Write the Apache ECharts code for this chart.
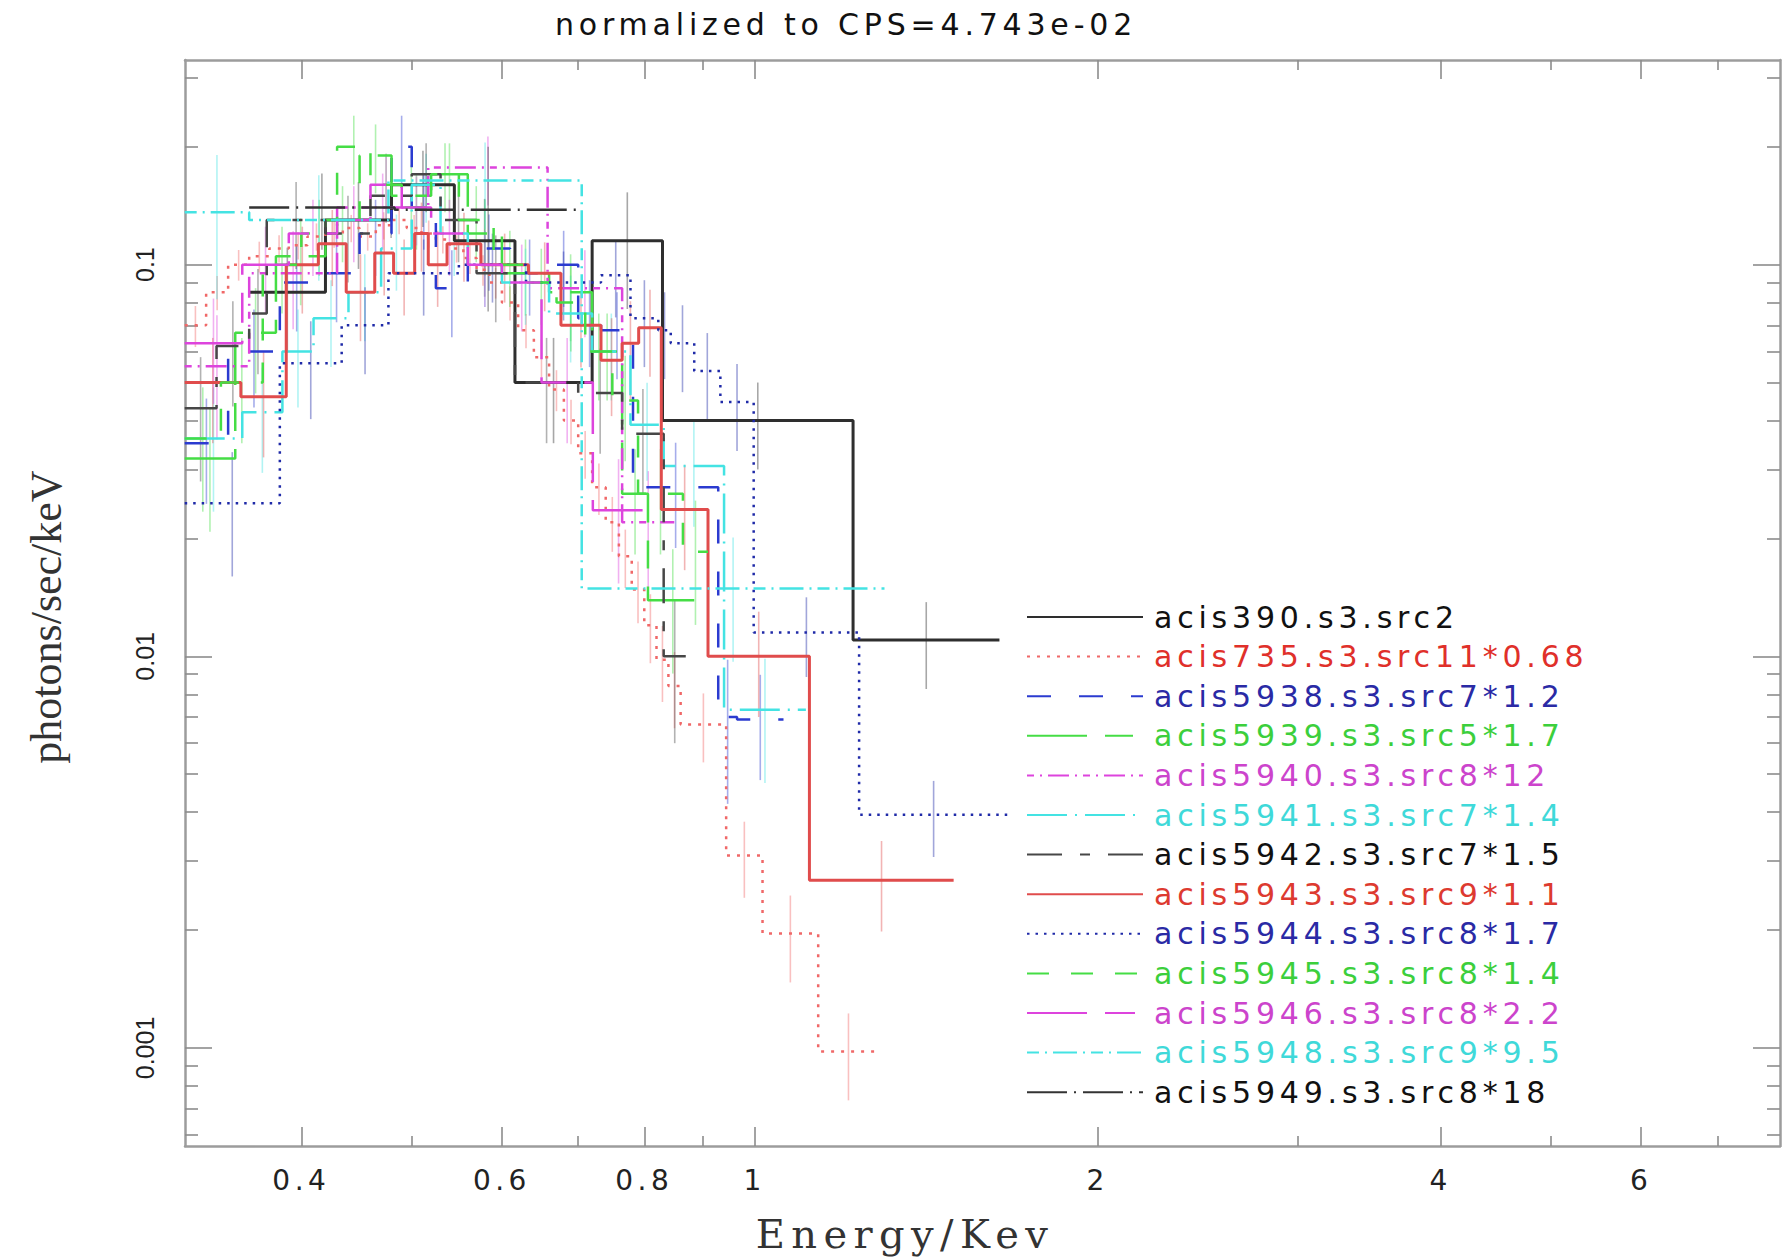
<!DOCTYPE html>
<html>
<head>
<meta charset="utf-8">
<script src="https://cdn.jsdelivr.net/npm/echarts@6/dist/echarts.min.js"></script>
<style>
html,body{margin:0;padding:0;background:#ffffff;}
#chart{width:1785px;height:1257px;}
#chart text[style*="DejaVu"]{letter-spacing:0.16em;}
</style>
</head>
<body>
<div id="chart"></div>
<script>
// ---------------- DATA (energy bin edges in keV, values in photons/sec/keV, relative errors) -------------
const titleText = 'normalized to CPS=4.743e-02';
const xName = 'Energy/Kev';
const yName = 'photons/sec/keV';

const xMajorTicks = [0.4, 0.6, 0.8, 1, 2, 4, 6];
const xMajorLabels = ['0.4', '0.6', '0.8', '1', '2', '4', '6'];
const xMinorTicks = [0.5, 0.7, 0.9, 3, 5, 7];
const yMajorTicks = [0.1, 0.01, 0.001];
const yMajorLabels = ['0.1', '0.01', '0.001'];
const yMinorTicks = [0.3, 0.2, 0.09, 0.08, 0.07, 0.06, 0.05, 0.04, 0.03, 0.02,
  0.009, 0.008, 0.007, 0.006, 0.005, 0.004, 0.003, 0.002, 0.0009, 0.0008, 0.0007, 0.0006];
const xRange = [0.3162, 7.943];
const yRange = [0.000562, 0.333];

const names = ['acis390.s3.src2', 'acis735.s3.src11*0.68', 'acis5938.s3.src7*1.2', 'acis5939.s3.src5*1.7',
  'acis5940.s3.src8*12', 'acis5941.s3.src7*1.4', 'acis5942.s3.src7*1.5', 'acis5943.s3.src9*1.1',
  'acis5944.s3.src8*1.7', 'acis5945.s3.src8*1.4', 'acis5946.s3.src8*2.2', 'acis5948.s3.src9*9.5',
  'acis5949.s3.src8*18'];

const e390 = [0.36, 0.42, 0.48, 0.545, 0.616, 0.72, 0.83, 1.22, 1.64];
const v390 = [0.085, 0.13, 0.16, 0.115, 0.05, 0.115, 0.04, 0.011];
const err390 = [0.3, 0.25, 0.22, 0.28, 0.3, 0.33, 0.25, 0.25];

const e735 = [0.316, 0.33, 0.345, 0.36, 0.375, 0.39, 0.405, 0.42, 0.435, 0.45, 0.465, 0.48, 0.495, 0.51, 0.525,
  0.54, 0.555, 0.57, 0.585, 0.60, 0.62, 0.64, 0.66, 0.68, 0.70, 0.72, 0.74, 0.76, 0.78, 0.80, 0.82, 0.84, 0.861,
  0.944, 1.016, 1.137, 1.285];
const v735 = [0.07, 0.085, 0.10, 0.105, 0.11, 0.112, 0.118, 0.12, 0.124, 0.118, 0.126, 0.13, 0.124, 0.12, 0.116,
  0.11, 0.104, 0.097, 0.09, 0.08, 0.068, 0.058, 0.048, 0.04, 0.033, 0.027, 0.022, 0.018, 0.0148, 0.012, 0.0098,
  0.0084, 0.0067, 0.0031, 0.00196, 0.00098];
const err735 = [0.12, 0.1, 0.09, 0.09, 0.08, 0.08, 0.08, 0.08, 0.08, 0.08, 0.08, 0.08, 0.08, 0.08, 0.08, 0.08,
  0.09, 0.09, 0.09, 0.1, 0.1, 0.11, 0.12, 0.13, 0.14, 0.15, 0.16, 0.17, 0.18, 0.2, 0.22, 0.22, 0.2, 0.22, 0.25, 0.25];

const e5938 = [0.316, 0.345, 0.383, 0.41, 0.45, 0.48, 0.50, 0.525, 0.56, 0.61, 0.66, 0.70, 0.733, 0.782, 0.929, 0.965, 1.06];
const v5938 = [0.035, 0.06, 0.09, 0.095, 0.12, 0.2, 0.14, 0.087, 0.11, 0.095, 0.1, 0.073, 0.068, 0.027, 0.007, 0.0069];
const err5938 = [0.3, 0.28, 0.25, 0.25, 0.22, 0.2, 0.22, 0.25, 0.22, 0.22, 0.22, 0.25, 0.25, 0.3, 0.4, 0.3];

const e5939 = [0.316, 0.35, 0.38, 0.42, 0.45, 0.48, 0.52, 0.56, 0.60, 0.66, 0.72, 0.765, 0.806, 0.891];
const v5939 = [0.032, 0.067, 0.105, 0.13, 0.19, 0.15, 0.17, 0.12, 0.095, 0.085, 0.06, 0.026, 0.0139];
const err5939 = [0.35, 0.3, 0.25, 0.22, 0.2, 0.2, 0.2, 0.22, 0.22, 0.25, 0.25, 0.3, 0.35];

const e5940 = [0.316, 0.36, 0.43, 0.517, 0.658, 0.765, 0.85];
const v5940 = [0.055, 0.095, 0.14, 0.177, 0.087, 0.022];
const err5940 = [0.35, 0.28, 0.22, 0.2, 0.25, 0.35];

const e5941 = [0.316, 0.355, 0.385, 0.41, 0.44, 0.47, 0.50, 0.53, 0.56, 0.60, 0.66, 0.72, 0.778, 0.832, 0.94, 1.109];
const v5941 = [0.036, 0.042, 0.06, 0.073, 0.085, 0.11, 0.16, 0.12, 0.10, 0.09, 0.075, 0.06, 0.039, 0.0306, 0.0073];
const err5941 = [0.35, 0.3, 0.28, 0.25, 0.25, 0.22, 0.2, 0.22, 0.22, 0.22, 0.25, 0.25, 0.28, 0.3, 0.35];

const e5942 = [0.316, 0.337, 0.36, 0.373, 0.42, 0.46, 0.50, 0.53, 0.57, 0.616, 0.70, 0.765, 0.832, 0.87];
const v5942 = [0.043, 0.062, 0.075, 0.13, 0.12, 0.15, 0.17, 0.13, 0.095, 0.05, 0.047, 0.037, 0.01];
const err5942 = [0.35, 0.3, 0.3, 0.25, 0.25, 0.22, 0.2, 0.22, 0.25, 0.3, 0.3, 0.3, 0.4];

const e5943 = [0.316, 0.354, 0.388, 0.414, 0.438, 0.464, 0.482, 0.503, 0.517, 0.537, 0.575, 0.633, 0.676, 0.733,
  0.765, 0.791, 0.828, 0.910, 1.117, 1.495];
const v5943 = [0.050, 0.046, 0.100, 0.113, 0.085, 0.107, 0.095, 0.120, 0.100, 0.113, 0.100, 0.095, 0.070, 0.057,
  0.063, 0.069, 0.0237, 0.010, 0.00268];
const err5943 = [0.3, 0.3, 0.25, 0.22, 0.25, 0.22, 0.22, 0.2, 0.22, 0.2, 0.2, 0.2, 0.22, 0.28, 0.28, 0.25, 0.3, 0.3, 0.26];

const e5944 = [0.316, 0.383, 0.434, 0.477, 0.55, 0.63, 0.733, 0.778, 0.823, 0.844, 0.885, 0.933, 0.998, 1.235, 1.669];
const v5944 = [0.0246, 0.056, 0.07, 0.095, 0.1, 0.09, 0.094, 0.073, 0.068, 0.063, 0.0535, 0.0446, 0.0115, 0.00394];
const err5944 = [0.35, 0.28, 0.25, 0.22, 0.2, 0.2, 0.22, 0.25, 0.25, 0.25, 0.25, 0.25, 0.23, 0.22];

const e5945 = [0.316, 0.34, 0.37, 0.40, 0.43, 0.46, 0.49, 0.52, 0.55, 0.59, 0.63, 0.67, 0.71, 0.75, 0.79, 0.865, 0.91];
const v5945 = [0.036, 0.05, 0.1, 0.12, 0.2, 0.16, 0.14, 0.17, 0.13, 0.1, 0.09, 0.08, 0.06, 0.045, 0.026, 0.0185];
const err5945 = [0.35, 0.3, 0.25, 0.22, 0.2, 0.2, 0.22, 0.2, 0.22, 0.22, 0.22, 0.25, 0.25, 0.3, 0.3, 0.35];

const e5946 = [0.316, 0.355, 0.39, 0.43, 0.46, 0.49, 0.52, 0.56, 0.60, 0.65, 0.721, 0.80];
const v5946 = [0.063, 0.1, 0.12, 0.13, 0.16, 0.14, 0.12, 0.1, 0.09, 0.05, 0.0236];
const err5946 = [0.3, 0.25, 0.22, 0.22, 0.2, 0.2, 0.22, 0.22, 0.25, 0.3, 0.35];

const e5948 = [0.316, 0.36, 0.477, 0.705, 1.30];
const v5948 = [0.136, 0.13, 0.164, 0.0149];
const err5948 = [0.4, 0.3, 0.25, 0.35];

const e5949 = [0.36, 0.483, 0.705];
const v5949 = [0.14, 0.138];
const err5949 = [0.22, 0.45];

// ---------------- STYLES -------------
const edgesList = [e390, e735, e5938, e5939, e5940, e5941, e5942, e5943, e5944, e5945, e5946, e5948, e5949];
const valuesList = [v390, v735, v5938, v5939, v5940, v5941, v5942, v5943, v5944, v5945, v5946, v5948, v5949];
const errList = [err390, err735, err5938, err5939, err5940, err5941, err5942, err5943, err5944, err5945, err5946, err5948, err5949];

const lineColors = ['#2e2e2e', '#f06868', '#2b3bd0', '#45dd45', '#dd44dd', '#44e3e3', '#474747', '#e04c4c',
  '#1f2aa8', '#45dd45', '#dd44dd', '#44e3e3', '#333333'];
const textColors = ['#111111', '#e0302a', '#2a2aa5', '#3ccf3c', '#cc44cc', '#3fd9d9', '#111111', '#dd3a30',
  '#2a2aa5', '#3ccf3c', '#cc44cc', '#3fd9d9', '#111111'];
const dashes = ['solid', [3, 7], [24, 28], [60, 18, 28, 18], [7, 6, 2, 6, 21, 6, 2, 6], [40, 8, 2, 8],
  [35, 18, 10, 18], 'solid', [2.5, 6], [22, 22], [60, 18, 30, 18], [12, 6, 2, 6, 24, 6, 2, 6], [40, 7, 2, 7]];
const widths = [3, 2.5, 2.5, 2.5, 2.5, 2.5, 2.5, 3, 2.5, 2.5, 2.5, 2.5, 2.5];

const L = Math.log10;

function stepPoints(e, v) {
  const pts = [];
  for (let i = 0; i < v.length; i++) {
    pts.push([L(e[i]), L(v[i])]);
    pts.push([L(e[i + 1]), L(v[i])]);
  }
  return pts;
}
function errData(e, v, err) {
  return v.map((val, i) => {
    const xc = (L(e[i]) + L(e[i + 1])) / 2;
    return [xc, L(val * (1 - err[i])), L(val * (1 + err[i]))];
  });
}

const series = [];
names.forEach((nm, k) => {
  series.push({
    type: 'line', name: nm, data: stepPoints(edgesList[k], valuesList[k]),
    symbol: 'none', showSymbol: false, silent: true, clip: true, z: 3,
    xAxisIndex: 0, yAxisIndex: 0,
    lineStyle: { color: lineColors[k], width: widths[k], type: dashes[k], cap: 'butt' },
    itemStyle: { color: lineColors[k] }
  });
});
names.forEach((nm, k) => {
  const col = lineColors[k];
  series.push({
    type: 'custom', name: nm + ' err', data: errData(edgesList[k], valuesList[k], errList[k]),
    xAxisIndex: 0, yAxisIndex: 0, silent: true, z: 2, clip: true,
    encode: { x: 0, y: [1, 2] },
    renderItem: function (params, api) {
      const p1 = api.coord([api.value(0), api.value(1)]);
      const p2 = api.coord([api.value(0), api.value(2)]);
      return { type: 'line', shape: { x1: p1[0], y1: p1[1], x2: p2[0], y2: p2[1] },
        style: { stroke: col, lineWidth: 1.6, opacity: 0.42 } };
    }
  });
});

const frameColor = '#9c9c9c';
const tickStyle = { color: '#8c8c8c', width: 1.6 };

function xAxisDef(pos, ticks, len, withLabel, showLine) {
  return {
    type: 'value', position: pos, min: L(xRange[0]), max: L(xRange[1]), offset: 0,
    axisLine: { show: showLine, onZero: false, lineStyle: { color: frameColor, width: 2.5 } },
    axisTick: { show: true, inside: true, length: len, customValues: ticks.map(L), lineStyle: tickStyle },
    axisLabel: withLabel ? {
      show: true, customValues: xMajorTicks.map(L), margin: 20,
      fontFamily: 'DejaVu Sans', fontSize: 28, color: '#222222',
      formatter: function (val) {
        let best = 0;
        xMajorTicks.forEach((t, i) => { if (Math.abs(L(t) - val) < Math.abs(L(xMajorTicks[best]) - val)) best = i; });
        return xMajorLabels[best];
      }
    } : { show: false },
    splitLine: { show: false }, minorTick: { show: false }, minorSplitLine: { show: false }
  };
}
function yAxisDef(pos, ticks, len, withLabel, showLine) {
  return {
    type: 'value', position: pos, min: L(yRange[0]), max: L(yRange[1]), offset: 0,
    axisLine: { show: showLine, onZero: false, lineStyle: { color: frameColor, width: 2.5 } },
    axisTick: { show: true, inside: true, length: len, customValues: ticks.map(L), lineStyle: tickStyle },
    axisLabel: withLabel ? {
      show: true, customValues: yMajorTicks.map(L), margin: 28, rotate: 90,
      fontFamily: 'Liberation Sans', fontSize: 25, color: '#222222',
      formatter: function (val) {
        let best = 0;
        yMajorTicks.forEach((t, i) => { if (Math.abs(L(t) - val) < Math.abs(L(yMajorTicks[best]) - val)) best = i; });
        return yMajorLabels[best];
      }
    } : { show: false },
    splitLine: { show: false }, minorTick: { show: false }, minorSplitLine: { show: false }
  };
}

const option = {
  animation: false,
  backgroundColor: '#ffffff',
  grid: { left: 185, right: 5, top: 60, bottom: 111, containLabel: false, outerBoundsMode: 'none' },
  xAxis: [
    xAxisDef('bottom', xMajorTicks, 19, true, true),
    xAxisDef('top', xMajorTicks, 19, false, true),
    xAxisDef('bottom', xMinorTicks, 10, false, false),
    xAxisDef('top', xMinorTicks, 10, false, false)
  ],
  yAxis: [
    yAxisDef('left', yMajorTicks, 27, true, true),
    yAxisDef('right', yMajorTicks, 27, false, true),
    yAxisDef('left', yMinorTicks, 13, false, false),
    yAxisDef('right', yMinorTicks, 13, false, false)
  ],
  legend: {
    orient: 'vertical', left: 1026, top: 602, padding: 0,
    itemWidth: 116, itemHeight: 14, itemGap: 9.6, selectedMode: false,
    itemStyle: { opacity: 0, borderWidth: 0 },
    textStyle: { fontFamily: 'DejaVu Sans', fontSize: 30, lineHeight: 30, padding: [0, 0, 0, 6] },
    data: names.map((nm, k) => ({ name: nm, textStyle: { color: textColors[k] } }))
  },
  graphic: [
    { type: 'text', x: 846, y: 24, silent: true,
      style: { text: titleText, fontFamily: 'DejaVu Sans', fontSize: 30, fill: '#111111', align: 'center', verticalAlign: 'middle' } },
    { type: 'text', x: 905, y: 1234, silent: true,
      style: { text: xName, fontFamily: 'DejaVu Serif', fontSize: 40, fill: '#333333', align: 'center', verticalAlign: 'middle' } },
    { type: 'text', x: 46, y: 617, rotation: Math.PI / 2, silent: true,
      style: { text: yName, fontFamily: 'Liberation Serif', fontSize: 44, fill: '#333333', align: 'center', verticalAlign: 'middle' } }
  ],
  series: series
};

const chart = echarts.init(document.getElementById('chart'), null, { renderer: 'svg', width: 1785, height: 1257 });
chart.setOption(option);
</script>
</body>
</html>
